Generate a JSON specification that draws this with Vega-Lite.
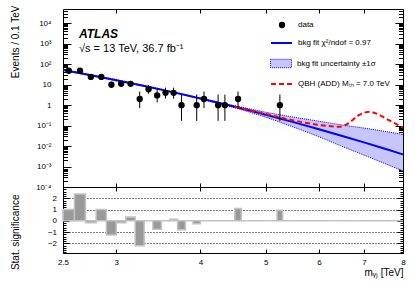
{
  "$schema": "https://vega.github.io/schema/vega-lite/v6.json",
  "background": "white",
  "padding": {"left": 9, "top": 4, "right": 5, "bottom": 4},
  "spacing": 0,
  "bounds": "flush",
  "config": {
    "font": "Liberation Sans",
    "view": {"stroke": "black", "strokeWidth": 1},
    "axis": {"domain": false, "grid": false, "labelFont": "Liberation Sans", "labelFontSize": 8, "labelColor": "black", "tickColor": "black", "tickWidth": 1, "titleFont": "Liberation Sans", "titleFontWeight": "normal", "titleColor": "black", "labelFlush": false, "labelOverlap": false, "zindex": 1},
    "legend": {"orient": "none", "title": null, "padding": 0, "labelFont": "Liberation Sans", "labelFontSize": 8, "labelColor": "black", "labelLimit": 250}
  },
  "datasets": {
    "fit": [
      {"x": 2.5, "fit": 51.9, "lo": 49.1, "hi": 54.9},
      {"x": 2.75, "fit": 29.1, "lo": 27.5, "hi": 30.8},
      {"x": 3.0, "fit": 16.6, "lo": 15.7, "hi": 17.6},
      {"x": 3.25, "fit": 9.69, "lo": 9.16, "hi": 10.25},
      {"x": 3.5, "fit": 5.74, "lo": 5.43, "hi": 6.07},
      {"x": 3.75, "fit": 3.46, "lo": 3.27, "hi": 3.66},
      {"x": 4.0, "fit": 2.12, "lo": 2.0, "hi": 2.24},
      {"x": 4.25, "fit": 1.316, "lo": 1.22, "hi": 1.42},
      {"x": 4.5, "fit": 0.83, "lo": 0.742, "hi": 0.928},
      {"x": 4.75, "fit": 0.53, "lo": 0.437, "hi": 0.643},
      {"x": 5.0, "fit": 0.342, "lo": 0.258, "hi": 0.453},
      {"x": 5.5, "fit": 0.148, "lo": 0.0844, "hi": 0.26},
      {"x": 6.0, "fit": 0.0668, "lo": 0.0287, "hi": 0.164},
      {"x": 6.5, "fit": 0.0312, "lo": 0.00957, "hi": 0.1076},
      {"x": 7.0, "fit": 0.0151, "lo": 0.00362, "hi": 0.0755},
      {"x": 7.5, "fit": 0.00756, "lo": 0.001446, "hi": 0.053},
      {"x": 8.0, "fit": 0.00389, "lo": 0.000608, "hi": 0.0369}
    ],
    "qbh": [
      {"x": 4.5, "y": 0.85}, {"x": 4.75, "y": 0.55}, {"x": 5.0, "y": 0.37}, {"x": 5.5, "y": 0.18},
      {"x": 6.0, "y": 0.108}, {"x": 6.25, "y": 0.093}, {"x": 6.45, "y": 0.088}, {"x": 6.65, "y": 0.135},
      {"x": 6.85, "y": 0.3}, {"x": 7.0, "y": 0.42}, {"x": 7.13, "y": 0.48}, {"x": 7.3, "y": 0.39},
      {"x": 7.5, "y": 0.245}, {"x": 7.75, "y": 0.138}, {"x": 8.0, "y": 0.079}
    ],
    "pts": [
      {"x": 2.55, "n": 48, "lo": 41.1, "hi": 55.9},
      {"x": 2.65, "n": 48, "lo": 41.1, "hi": 55.9},
      {"x": 2.75, "n": 24, "lo": 19.2, "hi": 29.9},
      {"x": 2.85, "n": 24, "lo": 19.2, "hi": 29.9},
      {"x": 2.95, "n": 10, "lo": 6.9, "hi": 14.3},
      {"x": 3.05, "n": 11, "lo": 7.7, "hi": 15.4},
      {"x": 3.15, "n": 11, "lo": 7.7, "hi": 15.4},
      {"x": 3.25, "n": 2, "lo": 0.71, "hi": 4.64},
      {"x": 3.35, "n": 6, "lo": 3.62, "hi": 9.58},
      {"x": 3.45, "n": 3, "lo": 1.37, "hi": 5.92},
      {"x": 3.55, "n": 4, "lo": 2.09, "hi": 7.16},
      {"x": 3.65, "n": 4, "lo": 2.09, "hi": 7.16},
      {"x": 3.75, "n": 1, "lo": 0.17, "hi": 3.3},
      {"x": 3.95, "n": 1, "lo": 0.17, "hi": 3.3},
      {"x": 4.05, "n": 2, "lo": 0.71, "hi": 4.64},
      {"x": 4.25, "n": 1, "lo": 0.17, "hi": 3.3},
      {"x": 4.35, "n": 1, "lo": 0.17, "hi": 3.3},
      {"x": 4.55, "n": 2, "lo": 0.71, "hi": 4.64},
      {"x": 5.25, "n": 1, "lo": 0.17, "hi": 3.3}
    ],
    "sig": [
      {"x0": 2.5, "x1": 2.6, "s": 1.0}, {"x0": 2.6, "x1": 2.7, "s": 2.37}, {"x0": 2.7, "x1": 2.8, "s": -0.17},
      {"x0": 2.8, "x1": 2.9, "s": 1.0}, {"x0": 2.9, "x1": 3.0, "s": -1.25}, {"x0": 3.0, "x1": 3.1, "s": -0.17},
      {"x0": 3.1, "x1": 3.2, "s": 0.33}, {"x0": 3.2, "x1": 3.3, "s": -2.2}, {"x0": 3.3, "x1": 3.4, "s": 0},
      {"x0": 3.4, "x1": 3.5, "s": -0.75}, {"x0": 3.5, "x1": 3.6, "s": 0}, {"x0": 3.6, "x1": 3.7, "s": 0.14},
      {"x0": 3.7, "x1": 3.8, "s": -0.8}, {"x0": 3.8, "x1": 3.9, "s": 0}, {"x0": 3.9, "x1": 4.0, "s": -0.26},
      {"x0": 4.0, "x1": 4.1, "s": 0}, {"x0": 4.1, "x1": 4.2, "s": 0}, {"x0": 4.2, "x1": 4.3, "s": 0},
      {"x0": 4.3, "x1": 4.4, "s": 0}, {"x0": 4.4, "x1": 4.5, "s": 0}, {"x0": 4.5, "x1": 4.6, "s": 1.1},
      {"x0": 4.6, "x1": 4.7, "s": 0}, {"x0": 4.7, "x1": 4.8, "s": 0}, {"x0": 4.8, "x1": 4.9, "s": 0},
      {"x0": 4.9, "x1": 5.0, "s": 0}, {"x0": 5.0, "x1": 5.1, "s": 0}, {"x0": 5.1, "x1": 5.2, "s": 0},
      {"x0": 5.2, "x1": 5.3, "s": 0.93}, {"x0": 5.3, "x1": 5.4, "s": 0}, {"x0": 5.4, "x1": 5.5, "s": 0},
      {"x0": 5.5, "x1": 5.6, "s": 0}, {"x0": 5.6, "x1": 5.7, "s": 0}, {"x0": 5.7, "x1": 5.8, "s": 0},
      {"x0": 5.8, "x1": 5.9, "s": 0}, {"x0": 5.9, "x1": 6.0, "s": 0}, {"x0": 6.0, "x1": 6.1, "s": 0},
      {"x0": 6.1, "x1": 6.2, "s": 0}, {"x0": 6.2, "x1": 6.3, "s": 0}, {"x0": 6.3, "x1": 6.4, "s": 0},
      {"x0": 6.4, "x1": 6.5, "s": 0}, {"x0": 6.5, "x1": 6.6, "s": 0}, {"x0": 6.6, "x1": 6.7, "s": 0},
      {"x0": 6.7, "x1": 6.8, "s": 0}, {"x0": 6.8, "x1": 6.9, "s": 0}, {"x0": 6.9, "x1": 7.0, "s": 0},
      {"x0": 7.0, "x1": 7.1, "s": 0}, {"x0": 7.1, "x1": 7.2, "s": 0}, {"x0": 7.2, "x1": 7.3, "s": 0},
      {"x0": 7.3, "x1": 7.4, "s": 0}, {"x0": 7.4, "x1": 7.5, "s": 0}, {"x0": 7.5, "x1": 7.6, "s": 0},
      {"x0": 7.6, "x1": 7.7, "s": 0}, {"x0": 7.7, "x1": 7.8, "s": 0}, {"x0": 7.8, "x1": 7.9, "s": 0},
      {"x0": 7.9, "x1": 8.0, "s": 0}
    ]
  },
  "vconcat": [
    {
      "width": 340,
      "height": 178,
      "title": {
        "text": "ATLAS", "subtitle": "√s = 13 TeV, 36.7 fb⁻¹",
        "anchor": "start", "frame": "group", "orient": "top", "offset": -45, "dx": 16, "dy": 5,
        "font": "Liberation Sans", "fontSize": 12, "fontStyle": "italic", "fontWeight": "bold", "color": "black",
        "subtitleFont": "Liberation Sans", "subtitleFontSize": 11, "subtitleColor": "black", "subtitlePadding": 2
      },
      "layer": [
        {
          "data": {"name": "fit"},
          "mark": {"type": "area", "interpolate": "monotone", "opacity": 1},
          "encoding": {
            "x": {"field": "x", "type": "quantitative", "scale": {"type": "log", "domain": [2.5, 8], "nice": false},
                  "axis": {"orient": "bottom", "values": [3, 4, 5, 6, 7], "labels": false, "tickSize": -4, "title": null}},
            "y": {"field": "lo", "type": "quantitative", "scale": {"type": "log", "domain": [0.0001, 50000], "nice": false},
                  "axis": {"orient": "left",
                    "values": [0.0001,0.0002,0.0003,0.0004,0.0005,0.0006,0.0007,0.0008,0.0009,0.001,0.002,0.003,0.004,0.005,0.006,0.007,0.008,0.009,0.01,0.02,0.03,0.04,0.05,0.06,0.07,0.08,0.09,0.1,0.2,0.3,0.4,0.5,0.6,0.7,0.8,0.9,1,2,3,4,5,6,7,8,9,10,20,30,40,50,60,70,80,90,100,200,300,400,500,600,700,800,900,1000,2000,3000,4000,5000,6000,7000,8000,9000,10000,20000,30000,40000],
                    "tickSize": {"condition": {"test": "abs(log(datum.value)/LN10-round(log(datum.value)/LN10))<0.001", "value": -8}, "value": -4.5},
                    "labelExpr": "abs(log(datum.value)/LN10-round(log(datum.value)/LN10))<0.001 ? (datum.value==1 ? '1' : datum.value==10 ? '10' : '10' + replace(replace(replace(replace(replace(''+round(log(datum.value)/LN10),'-','⁻'),'1','¹'),'2','²'),'3','³'),'4','⁴')) : ''",
                    "labelPadding": 20,
                    "title": "Events / 0.1 TeV", "titleFontSize": 10, "titleX": -48, "titleY": -4, "titleAlign": "right", "titleBaseline": "middle", "titleAngle": -90}},
            "y2": {"field": "hi"},
            "fill": {"datum": "bkg fit uncertainty  ±1σ", "type": "nominal",
              "scale": {"range": ["#c6c6fc"]},
              "legend": {"legendX": 207, "legendY": 43.5, "symbolType": "M-1,-0.4H1V0.4H-1Z", "symbolSize": 441,
                "symbolFillColor": "#c6c6fc", "symbolStrokeColor": "blue", "symbolStrokeWidth": 1, "symbolDash": [1, 1], "symbolOpacity": 1, "labelOffset": 5}}
          }
        },
        {
          "data": {"name": "fit"},
          "mark": {"type": "line", "interpolate": "monotone", "color": "blue", "strokeWidth": 1, "strokeDash": [1, 1]},
          "encoding": {
            "x": {"field": "x", "type": "quantitative", "axis": {"orient": "top", "values": [3, 4, 5, 6, 7], "labels": false, "tickSize": -4, "title": null}},
            "y": {"field": "lo", "type": "quantitative",
                  "axis": {"orient": "right",
                    "values": [0.0001,0.0002,0.0003,0.0004,0.0005,0.0006,0.0007,0.0008,0.0009,0.001,0.002,0.003,0.004,0.005,0.006,0.007,0.008,0.009,0.01,0.02,0.03,0.04,0.05,0.06,0.07,0.08,0.09,0.1,0.2,0.3,0.4,0.5,0.6,0.7,0.8,0.9,1,2,3,4,5,6,7,8,9,10,20,30,40,50,60,70,80,90,100,200,300,400,500,600,700,800,900,1000,2000,3000,4000,5000,6000,7000,8000,9000,10000,20000,30000,40000],
                    "tickSize": {"condition": {"test": "abs(log(datum.value)/LN10-round(log(datum.value)/LN10))<0.001", "value": -8}, "value": -4.5},
                    "labels": false, "title": null}}
          }
        },
        {
          "data": {"name": "fit"},
          "mark": {"type": "line", "interpolate": "monotone", "color": "blue", "strokeWidth": 1, "strokeDash": [1, 1]},
          "encoding": {
            "x": {"field": "x", "type": "quantitative", "axis": null},
            "y": {"field": "hi", "type": "quantitative", "axis": null}
          }
        },
        {
          "data": {"name": "fit"},
          "mark": {"type": "line", "interpolate": "monotone", "strokeWidth": 2},
          "encoding": {
            "x": {"field": "x", "type": "quantitative", "axis": null},
            "y": {"field": "fit", "type": "quantitative", "axis": null},
            "color": {"datum": "bkg fit  χ²/ndof = 0.97", "type": "nominal",
              "scale": {"range": ["blue"]},
              "legend": {"legendX": 207, "legendY": 22.5, "symbolType": "stroke", "symbolSize": 441,
                "symbolStrokeColor": "blue", "symbolStrokeWidth": 2, "labelOffset": 5}}
          }
        },
        {
          "data": {"name": "qbh"},
          "mark": {"type": "line", "interpolate": "monotone", "strokeWidth": 2, "color": "red"},
          "encoding": {
            "x": {"field": "x", "type": "quantitative", "axis": null},
            "y": {"field": "y", "type": "quantitative", "axis": null},
            "strokeDash": {"datum": "QBH (ADD) Mₜₕ = 7.0 TeV", "type": "nominal",
              "scale": {"range": [[5, 3]]},
              "legend": {"legendX": 207, "legendY": 63.5, "symbolType": "stroke", "symbolSize": 441,
                "symbolStrokeColor": "red", "symbolStrokeWidth": 2, "labelOffset": 5}}
          }
        },
        {
          "data": {"name": "pts"},
          "mark": {"type": "rule", "color": "black", "strokeWidth": 1},
          "encoding": {
            "x": {"field": "x", "type": "quantitative", "axis": null},
            "y": {"field": "lo", "type": "quantitative", "axis": null},
            "y2": {"field": "hi"}
          }
        },
        {
          "data": {"name": "pts"},
          "mark": {"type": "point", "filled": true, "size": 40, "opacity": 1, "color": "black"},
          "encoding": {
            "x": {"field": "x", "type": "quantitative", "axis": null},
            "y": {"field": "n", "type": "quantitative", "axis": null},
            "shape": {"datum": "data", "type": "nominal",
              "scale": {"range": ["circle"]},
              "legend": {"legendX": 215, "legendY": 12, "symbolSize": 40, "symbolFillColor": "black", "symbolStrokeWidth": 0, "symbolOpacity": 1, "labelOffset": 12}}
          }
        }
      ],
      "resolve": {"axis": {"x": "independent", "y": "independent"}}
    },
    {
      "width": 340,
      "height": 66,
      "data": {"name": "sig"},
      "layer": [
        {
          "mark": {"type": "bar", "fill": "#999999", "stroke": "#c2c2c2", "strokeWidth": 1.5},
          "encoding": {
            "x": {"field": "x0", "type": "quantitative", "scale": {"type": "log", "domain": [2.5, 8], "nice": false},
                  "axis": {"orient": "bottom", "values": [2.5, 3, 4, 5, 6, 7, 8], "tickSize": -4, "labelPadding": 9,
                    "labelExpr": "datum.value==2.5 ? '2.5' : ''+datum.value",
                    "title": "mᵧⱼ [TeV]", "titleAnchor": "end", "titleFontSize": 10, "titlePadding": 1}},
            "x2": {"field": "x1"},
            "y": {"field": "s", "type": "quantitative", "scale": {"domain": [-2.85, 3], "nice": false, "zero": false},
                  "axis": {"orient": "left",
                    "values": [-2.8,-2.6,-2.4,-2.2,-2,-1.8,-1.6,-1.4,-1.2,-1,-0.8,-0.6,-0.4,-0.2,0,0.2,0.4,0.6,0.8,1,1.2,1.4,1.6,1.8,2,2.2,2.4,2.6,2.8,3],
                    "tickSize": {"condition": {"test": "abs(datum.value-round(datum.value))<0.001", "value": -6}, "value": -3},
                    "labelExpr": "abs(datum.value-round(datum.value))<0.001 && datum.value<2.5 ? replace(''+round(datum.value),'-','−') : ''",
                    "labelPadding": 12.5,
                    "grid": true, "gridColor": "black", "gridDash": [1, 2], "gridWidth": 1,
                    "gridOpacity": {"condition": {"test": "abs(datum.value)>0.5 && abs(datum.value)<2.5 && abs(datum.value-round(datum.value))<0.001", "value": 1}, "value": 0},
                    "title": "Stat. significance", "titleFontSize": 10, "titleX": -48, "titleY": 7, "titleAlign": "right", "titleBaseline": "middle", "titleAngle": -90}},
            "y2": {"datum": 0}
          }
        },
        {
          "mark": {"type": "bar", "opacity": 0},
          "encoding": {
            "x": {"field": "x0", "type": "quantitative", "axis": {"orient": "top", "values": [3, 4, 5, 6, 7], "labels": false, "tickSize": -4, "title": null}},
            "x2": {"field": "x1"},
            "y": {"field": "s", "type": "quantitative",
                  "axis": {"orient": "right",
                    "values": [-2.8,-2.6,-2.4,-2.2,-2,-1.8,-1.6,-1.4,-1.2,-1,-0.8,-0.6,-0.4,-0.2,0,0.2,0.4,0.6,0.8,1,1.2,1.4,1.6,1.8,2,2.2,2.4,2.6,2.8,3],
                    "tickSize": {"condition": {"test": "abs(datum.value-round(datum.value))<0.001", "value": -6}, "value": -3},
                    "labels": false, "title": null}},
            "y2": {"datum": 0}
          }
        }
      ],
      "resolve": {"axis": {"x": "independent", "y": "independent"}}
    }
  ]
}
